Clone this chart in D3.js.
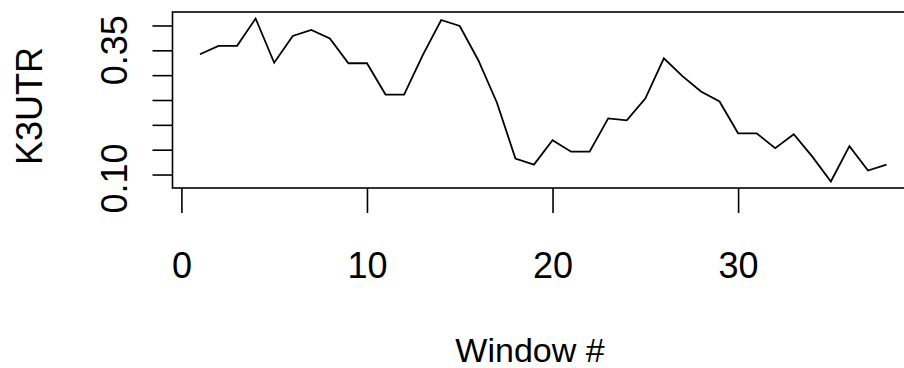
<!DOCTYPE html>
<html>
<head>
<meta charset="utf-8">
<script src="https://cdn.jsdelivr.net/npm/d3@7"></script>
<style>
  html, body { margin: 0; padding: 0; background: #fff; }
  svg { display: block; }
  text { font-family: "Liberation Sans", Arial, sans-serif; fill: #000; }
</style>
</head>
<body>
<svg id="chart" width="904" height="368"></svg>
<script>
// K3UTR value per window (window # = position in the list, 1..38)
const k3utr = [
  0.342, 0.359, 0.359, 0.414, 0.325, 0.379, 0.391, 0.374, 0.324, 0.324,
  0.261, 0.261, 0.340, 0.411, 0.399, 0.330, 0.245, 0.132, 0.120, 0.169,
  0.146, 0.146, 0.213, 0.209, 0.253, 0.334, 0.298, 0.267, 0.247, 0.183,
  0.183, 0.153, 0.181, 0.136, 0.086, 0.157, 0.108, 0.120
];
const xTicks = [0, 10, 20, 30];
const yTicks = [0.10, 0.15, 0.20, 0.25, 0.30, 0.35, 0.40];
const yLabelled = [0.10, 0.35];

const svg = d3.select("#chart");
const boxLeft = 172.5, boxRight = 914, boxTop = 12, boxBottom = 188;

// R style: pad the data range by 4% on each side
function pad(ext) {
  const d = (ext[1] - ext[0]) * 0.04;
  return [ext[0] - d, ext[1] + d];
}

const points = k3utr.map((v, i) => ({ w: i + 1, v: v }));

const x = d3.scaleLinear()
  .domain(pad(d3.extent(points, d => d.w)))
  .range([boxLeft, boxRight]);
const y = d3.scaleLinear()
  .domain(pad(d3.extent(points, d => d.v)))
  .range([boxBottom, boxTop]);

// series line
svg.append("path")
  .datum(points)
  .attr("fill", "none")
  .attr("stroke", "#000")
  .attr("stroke-width", 1.8)
  .attr("d", d3.line().x(d => x(d.w)).y(d => y(d.v)));

// plot box
svg.append("rect")
  .attr("x", boxLeft)
  .attr("y", boxTop)
  .attr("width", boxRight - boxLeft)
  .attr("height", boxBottom - boxTop)
  .attr("fill", "none")
  .attr("stroke", "#000")
  .attr("stroke-width", 1.6);

// x axis
const xAxis = svg.append("g")
  .attr("transform", `translate(0,${boxBottom})`)
  .call(d3.axisBottom(x).tickValues(xTicks).tickSize(25).tickFormat(d3.format("d")));
xAxis.select(".domain").remove();
xAxis.selectAll(".tick line").attr("stroke", "#000").attr("stroke-width", 1.6);
xAxis.selectAll(".tick text")
  .attr("y", 90)
  .attr("dy", 0)
  .attr("fill", "#000")
  .attr("font-size", 36)
  .attr("font-family", "Liberation Sans, Arial, sans-serif");

// y axis, labels parallel to the axis
const yAxis = svg.append("g")
  .attr("transform", `translate(${boxLeft},0)`)
  .call(d3.axisLeft(y).tickValues(yTicks).tickSize(20).tickFormat(""));
yAxis.select(".domain").remove();
yAxis.selectAll(".tick line").attr("stroke", "#000").attr("stroke-width", 1.6);

svg.append("g")
  .selectAll("text")
  .data(yLabelled)
  .enter().append("text")
  .attr("transform", d => `translate(127,${y(d) + (d < 0.2 ? 4 : 0)}) rotate(-90)`)
  .attr("text-anchor", "middle")
  .attr("font-size", 36)
  .text(d => d3.format(".2f")(d));

// axis titles
svg.append("text")
  .attr("x", 530)
  .attr("y", 362)
  .attr("text-anchor", "middle")
  .attr("font-size", 34)
  .text("Window #");

svg.append("text")
  .attr("transform", "translate(42,106) rotate(-90)")
  .attr("text-anchor", "middle")
  .attr("font-size", 36)
  .text("K3UTR");
</script>
</body>
</html>
